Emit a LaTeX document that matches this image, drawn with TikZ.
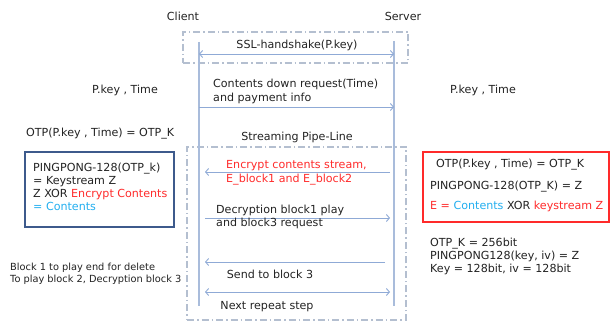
\documentclass[tikz,border=0pt]{standalone}
\usepackage{fontspec}
\setmainfont{DejaVu Sans}
\usetikzlibrary{arrows.meta}
\definecolor{lifeblue}{HTML}{A9BCDB}
\definecolor{arrowblue}{HTML}{8FAAD6}
\definecolor{framegrey}{HTML}{B4BFD0}
\definecolor{boxblue}{HTML}{3D5A8C}
\definecolor{hotred}{HTML}{FF2A2A}
\definecolor{skyblue}{HTML}{22AEEF}
\definecolor{ink}{HTML}{222222}
\tikzset{
  txt/.style={inner sep=0pt, anchor=west, text=ink, font=\fontsize{11.1}{13}\selectfont},
  ctxt/.style={txt, anchor=center},
  lifeline/.style={draw=lifeblue, line width=1.3pt},
  msg/.style={draw=arrowblue, line width=0.9pt, >={Straight Barb[length=3pt,width=7pt]}},
  phase/.style={draw=framegrey, line width=1.3pt, dash pattern=on 7pt off 3pt on 1.5pt off 3pt},
  infobox/.style={draw, line width=1.6pt, minimum width=#1, inner sep=0pt}
}
\begin{document}
\begin{tikzpicture}[x=1pt, y=-1pt]
\useasboundingbox (0,0) rectangle (614,323);

% participants
\node[ctxt] (client) at (183,16) {Client};
\node[ctxt] (server) at (403,16) {Server};

% phase frames
\node[phase, minimum width=225pt, minimum height=31pt, inner sep=0pt] (handshake) at (295.5,47.5) {};
\node[phase, minimum width=219pt, minimum height=173pt, inner sep=0pt] (pipeline) at (296.5,233.5) {};

% lifelines
\coordinate (ctop) at (199,42);
\coordinate (cbot) at (199,306);
\coordinate (stop) at (394,41);
\coordinate (sbot) at (394,306);
\draw[lifeline] (ctop) -- (cbot);
\draw[lifeline] (stop) -- (sbot);

% handshake
\coordinate (hs1) at (199,54);
\coordinate (hs2) at (394,54);
\draw[msg, <->] (hs1) -- (hs2);
\node[ctxt] (hslbl) at (297,45) {SSL-handshake(P.key)};

% content request
\coordinate (rq1) at (199,107);
\coordinate (rq2) at (394,107);
\draw[msg, ->] (rq1) -- (rq2);
\node[txt] (rqlbl1) at (213,84) {Contents down request(Time)};
\node[txt] (rqlbl2) at (213,98) {and payment info};

\node[txt] (pkl) at (92,90) {P.key , Time};
\node[txt] (pkr) at (450,90) {P.key , Time};

\node[ctxt] (pipelbl) at (297,137) {Streaming Pipe-Line};

% encrypted stream
\coordinate (en1) at (390,172);
\coordinate (en2) at (205,172);
\draw[msg, ->] (en1) -- (en2);
\node[txt, text=hotred] (enlbl1) at (226,166) {Encrypt contents stream,};
\node[txt, text=hotred] (enlbl2) at (226,180) {E\_block1 and E\_block2};

% decryption / next request
\coordinate (dc1) at (205,218);
\coordinate (dc2) at (390,218);
\draw[msg, ->] (dc1) -- (dc2);
\node[txt] (dclbl1) at (216,210) {Decryption block1 play};
\node[txt] (dclbl2) at (216,223) {and block3 request};

% block 3
\coordinate (b31) at (385,262);
\coordinate (b32) at (205,262);
\draw[msg, ->] (b31) -- (b32);
\node[ctxt] (b3lbl) at (270,274) {Send to block 3};

% repeat
\coordinate (rp1) at (205,292);
\coordinate (rp2) at (390,292);
\draw[msg, <->] (rp1) -- (rp2);
\node[ctxt] (rplbl) at (267,307) {Next repeat step};

% client side computation
\node[txt] (otpc) at (26,134) {OTP(P.key , Time) = OTP\_K};
\node[infobox=149pt, draw=boxblue, minimum height=75pt] (cbox) at (99.5,189.5) {};
\node[txt, anchor=north west, align=left] (cboxtxt) at (33,163)
  {PINGPONG-128(OTP\_k)\\= Keystream Z\\Z XOR \textcolor{hotred}{Encrypt Contents}\\\textcolor{skyblue}{= Contents}};

\node[txt, font=\fontsize{9.8}{12}\selectfont, anchor=north west, align=left] (cnote) at (10,263)
  {Block 1 to play end for delete\\To play block 2, Decryption block 3};

% server side computation
\node[infobox=186pt, draw=hotred, minimum height=70pt] (sbox) at (516,187) {};
\node[txt] (sl1) at (436,165) {OTP(P.key , Time) = OTP\_K};
\node[txt] (sl2) at (430,187) {PINGPONG-128(OTP\_K) = Z};
\node[txt] (sl3) at (430,206) {\textcolor{hotred}{E =} \textcolor{skyblue}{Contents} XOR \textcolor{hotred}{keystream Z}};

\node[txt, anchor=north west, align=left] (snote) at (430,238)
  {OTP\_K = 256bit\\PINGPONG128(key, iv) = Z\\Key = 128bit, iv = 128bit};
\end{tikzpicture}
\end{document}
